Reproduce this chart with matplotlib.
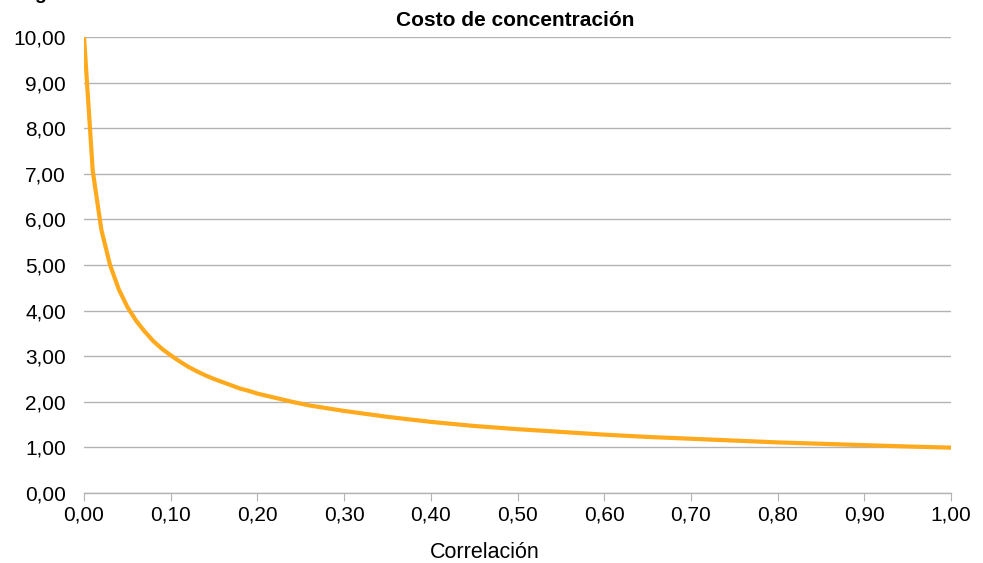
import matplotlib
matplotlib.use("Agg")
import matplotlib.pyplot as plt
from matplotlib.ticker import FuncFormatter, MultipleLocator

plt.rcParams['font.family'] = ['Liberation Sans', 'DejaVu Sans']

# valores
correlacion = [0.00, 0.01, 0.02, 0.03, 0.04, 0.05, 0.06, 0.07, 0.08, 0.09,
               0.10, 0.11, 0.12, 0.13, 0.14, 0.15, 0.16, 0.17, 0.18, 0.19,
               0.20, 0.22, 0.24, 0.26, 0.28, 0.30, 0.35, 0.40, 0.45, 0.50,
               0.55, 0.60, 0.65, 0.70, 0.75, 0.80, 0.85, 0.90, 0.95, 1.00]
costo = [10.00, 7.07, 5.77, 5.00, 4.47, 4.08, 3.78, 3.54, 3.33, 3.16,
         3.02, 2.89, 2.77, 2.67, 2.58, 2.50, 2.43, 2.36, 2.29, 2.24,
         2.18, 2.09, 2.00, 1.92, 1.86, 1.80, 1.67, 1.56, 1.47, 1.40,
         1.34, 1.28, 1.23, 1.19, 1.15, 1.11, 1.08, 1.05, 1.02, 0.995]

fig = plt.figure(figsize=(9.83, 5.63), dpi=100)
ax = fig.add_axes([0.0855, 0.1243, 0.882, 0.810])

ax.plot(correlacion, costo, color='#FFA91C', lw=3.0, solid_joinstyle='round',
        solid_capstyle='butt', zorder=3)

ax.set_xlim(0, 1)
ax.set_ylim(0, 10)
ax.xaxis.set_major_locator(MultipleLocator(0.1))
ax.yaxis.set_major_locator(MultipleLocator(1))
coma = FuncFormatter(lambda v, p: f"{v:.2f}".replace('.', ','))
ax.xaxis.set_major_formatter(coma)
ax.yaxis.set_major_formatter(coma)

ax.grid(axis='y', color='#b3b3b3', lw=1.0)
ax.set_axisbelow(True)
for s in ['top', 'right', 'left']:
    ax.spines[s].set_visible(False)
ax.spines['bottom'].set_color('#b3b3b3')
ax.spines['bottom'].set_linewidth(1.0)
ax.tick_params(axis='x', direction='out', length=6, color='#b3b3b3',
               labelsize=15, pad=3)
ax.tick_params(axis='y', length=0, labelsize=15, pad=13)

fig.text(515 / 983, 1 - 20 / 563, "Costo de concentración", ha='center',
         va='center', fontsize=15, fontweight='bold')
fig.text(485 / 983, 1 - 553 / 563, "Correlación", ha='center', va='center',
         fontsize=15.5)
fig.text(40 / 983, 1 + 1 / 563, "g", ha='center', va='baseline', fontsize=14,
         fontweight='bold')

fig.savefig("out.png", dpi=100)
